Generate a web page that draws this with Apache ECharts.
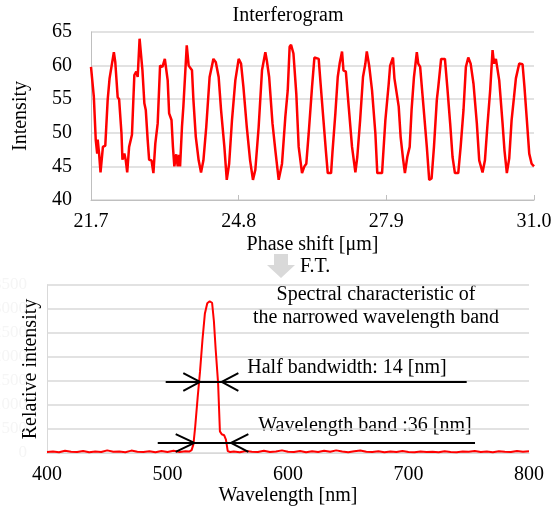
<!DOCTYPE html>
<html>
<head>
<meta charset="utf-8">
<script src="https://cdn.jsdelivr.net/npm/echarts@6/dist/echarts.min.js"></script>
<style>
  html, body { margin: 0; padding: 0; background: #fff; }
  #main { width: 552px; height: 508px; }
</style>
</head>
<body>
<div id="main"></div>
<script>
// interferogram (phase shift in um, intensity)
const phaseX = [
  21.70, 21.76, 21.80, 21.83, 21.84, 21.87, 21.90, 21.95, 22.00, 22.05, 22.09, 22.13, 22.18, 22.21, 22.26, 22.29,
  22.34, 22.36, 22.40, 22.43, 22.46, 22.50, 22.56, 22.61, 22.65, 22.68, 22.72, 22.75, 22.78, 22.82, 22.85, 22.89,
  22.92, 22.97, 23.01, 23.05, 23.10, 23.15, 23.20, 23.25, 23.27, 23.31, 23.34, 23.39, 23.42, 23.45, 23.49, 23.52,
  23.55, 23.57, 23.61, 23.64, 23.68, 23.71, 23.75, 23.78, 23.82, 23.85, 23.90, 23.96, 24.01, 24.06, 24.12, 24.19,
  24.27, 24.32, 24.38, 24.43, 24.50, 24.55, 24.60, 24.66, 24.73, 24.80, 24.85, 24.90, 24.97, 25.04, 25.10, 25.15,
  25.22, 25.29, 25.36, 25.39, 25.44, 25.51, 25.57, 25.64, 25.71, 25.78, 25.83, 25.87, 25.90, 25.95, 26.01, 26.06,
  26.13, 26.18, 26.22, 26.27, 26.34, 26.39, 26.48, 26.52, 26.58, 26.63, 26.67, 26.74, 26.77, 26.83, 26.88, 26.92,
  26.97, 27.00, 27.05, 27.11, 27.18, 27.25, 27.29, 27.35, 27.41, 27.46, 27.49, 27.54, 27.60, 27.67, 27.71, 27.81,
  27.88, 27.95, 27.98, 28.04, 28.07, 28.11, 28.16, 28.20, 28.25, 28.29, 28.34, 28.39, 28.43, 28.48, 28.54, 28.57,
  28.61, 28.68, 28.75, 28.80, 28.85, 28.90, 28.96, 28.99, 29.05, 29.13, 29.18, 29.24, 29.29, 29.34, 29.41, 29.46,
  29.52, 29.57, 29.62, 29.67, 29.73, 29.80, 29.85, 29.92, 29.97, 30.02, 30.08, 30.13, 30.16, 30.20, 30.23, 30.27,
  30.34, 30.38, 30.43, 30.48, 30.53, 30.58, 30.62, 30.65, 30.69, 30.76, 30.80, 30.85, 30.90, 30.95, 31.00
];
const intensity = [
  59.8, 55.3, 48.9, 46.9, 49.0, 46.9, 44.1, 47.9, 48.1, 54.9, 58.1, 58.2, 62.0, 60.5, 55.3, 55.0,
  49.9, 46.0, 46.9, 45.9, 44.1, 47.9, 49.7, 58.6, 59.1, 58.3, 64.0, 64.0, 59.3, 54.4, 53.4, 48.9,
  46.0, 45.9, 44.0, 48.4, 51.4, 60.0, 59.8, 61.0, 60.8, 57.8, 52.9, 51.9, 47.9, 45.0, 46.8, 45.0,
  46.7, 45.0, 50.9, 54.0, 54.1, 63.0, 60.0, 60.0, 59.3, 54.9, 49.4, 45.9, 44.1, 45.9, 50.9, 58.3,
  61.0, 60.5, 58.3, 53.4, 47.9, 43.0, 45.4, 51.9, 57.8, 61.0, 60.3, 56.8, 50.9, 45.9, 43.0, 44.5,
  50.9, 59.3, 62.0, 60.8, 58.3, 51.4, 47.4, 43.0, 45.4, 52.4, 56.3, 62.8, 63.1, 61.8, 55.8, 47.9,
  44.0, 45.0, 45.4, 49.9, 56.8, 61.2, 61.0, 57.3, 51.9, 47.4, 44.0, 44.0, 47.2, 52.9, 58.3, 60.3,
  62.1, 59.3, 59.1, 53.9, 47.9, 44.1, 46.4, 51.9, 58.3, 60.3, 62.1, 60.0, 56.3, 49.9, 44.0, 44.0,
  51.9, 57.3, 60.0, 61.2, 58.1, 58.1, 53.9, 49.4, 46.2, 44.0, 46.4, 47.9, 53.4, 58.3, 62.0, 60.3,
  59.8, 53.9, 47.9, 43.0, 43.2, 47.9, 54.9, 56.8, 61.0, 61.0, 56.8, 51.4, 46.4, 44.0, 44.0, 47.9,
  53.4, 59.8, 61.2, 60.3, 57.3, 51.4, 45.9, 44.1, 45.9, 50.9, 56.3, 62.3, 60.3, 61.0, 61.0, 57.8,
  51.4, 47.4, 44.0, 46.2, 51.9, 55.3, 58.1, 58.3, 60.3, 60.2, 56.8, 51.9, 46.9, 45.4, 45.0
];
const phaseTicks = [21.7, 24.8, 27.9, 31.0];

// spectrum after F.T. (wavelength in nm, relative intensity)
const wavelength = [
  400, 405, 410, 415, 420, 425, 430, 435, 440, 445, 450, 455, 460, 465, 470, 475, 480, 485, 490, 495, 500, 505, 510, 515,
  518, 520, 521.5, 523, 525, 527, 529, 531, 533, 535, 537, 538.5, 540, 542, 543.5, 545, 547, 548.5, 550, 552,
  555, 560, 565, 570, 575, 580, 585, 590, 595, 600, 605, 610, 615, 620, 625, 630, 635, 640, 645, 650,
  655, 660, 665, 670, 675, 680, 685, 690, 695, 700, 705, 710, 715, 720, 725, 730, 735, 740, 745, 750,
  755, 760, 765, 770, 775, 780, 785, 790, 795, 800
];
const relIntensity = [
  20, 30, 15, 45, 25, 20, 40, 15, 30, 20, 55, 25, 30, 15, 50, 25, 20, 35, 15, 40, 20, 45, 20, 35,
  30, 60, 180, 550, 1150, 1700, 2350, 2900, 3120, 3160, 3130, 2750, 2150, 1450, 450, 390, 370, 280, 40, 20,
  30, 15, 40, 25, 20, 45, 20, 30, 55, 25, 20, 40, 15, 35, 20, 45, 25, 55, 30, 15,
  35, 50, 25, 20, 35, 15, 30, 20, 40, 20, 15, 30, 20, 25, 15, 35, 20, 15, 30, 25,
  40, 20, 30, 15, 35, 25, 20, 40, 25, 35
];

// width markers, in data units of the spectrum
const halfY = 1480;
const halfLine = [498.5, 748.3];
const halfHeads = [513.1, 527.0, 545.0, 558.8]; // left arm, left tip, right tip, right arm
const bandY = 210;
const bandLine = [491.9, 755.2];
const bandHeads = [506.8, 522.3, 552.7, 567.1];
const headSpan = 185;

const serif = "'Liberation Serif', 'DejaVu Serif', serif";
const fs = 20;

function zip(xs, ys) {
  return xs.map((x, i) => [x, ys[i]]);
}

function markerSeries(y, line, heads) {
  const polys = [
    [[line[0], y], [line[1], y]],
    [[heads[0], y + headSpan], [heads[1], y], [heads[0], y - headSpan]],
    [[heads[3], y + headSpan], [heads[2], y], [heads[3], y - headSpan]]
  ];
  return polys.map(p => ({
    type: 'line',
    xAxisIndex: 1,
    yAxisIndex: 1,
    data: p,
    showSymbol: false,
    silent: true,
    z: 3,
    lineStyle: { color: '#000', width: 2 }
  }));
}

function note(text, x, y) {
  return {
    type: 'text', x: x, y: y,
    style: { text: text, font: fs + 'px ' + serif, fill: '#000', align: 'center', verticalAlign: 'middle' }
  };
}

const chart = echarts.init(document.getElementById('main'));

const option = {
  animation: false,
  textStyle: { fontFamily: serif },
  grid: [
    { left: 91, right: 18, top: 32, height: 168, outerBoundsMode: 'none' },
    { left: 47, right: 23, top: 285, height: 168, outerBoundsMode: 'none' }
  ],
  xAxis: [
    {
      gridIndex: 0,
      type: 'value',
      min: 21.7,
      max: 31.0,
      interval: 3.1,
      name: 'Phase shift [μm]',
      nameLocation: 'middle',
      nameGap: 35,
      nameMoveOverlap: false,
      nameTextStyle: { fontFamily: serif, fontSize: fs, color: '#000' },
      axisLine: { lineStyle: { color: '#bfbfbf' } },
      axisTick: { show: true, inside: true, length: 5, lineStyle: { color: '#bfbfbf' }, customValues: phaseTicks },
      axisLabel: {
        fontFamily: serif, fontSize: fs, color: '#000', margin: 12,
        customValues: phaseTicks,
        formatter: v => v.toFixed(1)
      },
      splitLine: { show: false }
    },
    {
      gridIndex: 1,
      type: 'value',
      min: 400,
      max: 800,
      interval: 100,
      name: 'Wavelength [nm]',
      nameLocation: 'middle',
      nameGap: 33,
      nameMoveOverlap: false,
      nameTextStyle: { fontFamily: serif, fontSize: fs, color: '#000' },
      axisLine: { lineStyle: { color: '#d9d9d9' } },
      axisTick: { show: false },
      axisLabel: { fontFamily: serif, fontSize: fs, color: '#000', margin: 12 },
      splitLine: { show: false }
    }
  ],
  yAxis: [
    {
      gridIndex: 0,
      type: 'value',
      min: 40,
      max: 65,
      interval: 5,
      name: 'Intensity',
      nameLocation: 'middle',
      nameGap: 60,
      nameMoveOverlap: false,
      nameTextStyle: { fontFamily: serif, fontSize: fs, color: '#000' },
      axisLine: { show: true, lineStyle: { color: '#bfbfbf' } },
      axisTick: { show: false },
      axisLabel: { fontFamily: serif, fontSize: fs, color: '#000', margin: 19 },
      splitLine: { lineStyle: { color: '#d9d9d9', width: 1.5 } }
    },
    {
      gridIndex: 1,
      type: 'value',
      min: 0,
      max: 3500,
      interval: 500,
      name: 'Relative intensity',
      nameLocation: 'middle',
      nameGap: 6,
      nameMoveOverlap: false,
      nameTextStyle: { fontFamily: serif, fontSize: fs, color: '#000' },
      axisLine: { show: true, lineStyle: { color: '#d9d9d9' } },
      axisTick: { show: false },
      axisLabel: { fontFamily: serif, fontSize: 17, color: '#f5f5f5', margin: 20, formatter: v => String(v) },
      splitLine: { lineStyle: { color: '#d9d9d9', width: 1.5 } }
    }
  ],
  graphic: [
    note('Interferogram', 288, 16),
    {
      type: 'polygon',
      shape: { points: [[274, 254], [288, 254], [288, 265], [295, 265], [281, 278], [267, 265], [274, 265]] },
      style: { fill: '#d9d9d9' }
    },
    {
      type: 'text', x: 300, y: 267,
      style: { text: 'F.T.', font: fs + 'px ' + serif, fill: '#000', verticalAlign: 'middle' }
    },
    note('Spectral characteristic of', 376, 295),
    note('the narrowed wavelength band', 376, 318),
    note('Half bandwidth: 14 [nm]', 347, 368),
    note('Wavelength band :36 [nm]', 365, 426)
  ],
  series: [
    {
      type: 'line',
      xAxisIndex: 0,
      yAxisIndex: 0,
      data: zip(phaseX, intensity),
      showSymbol: false,
      lineStyle: { color: '#ff0000', width: 2.5 }
    },
    {
      type: 'line',
      xAxisIndex: 1,
      yAxisIndex: 1,
      data: zip(wavelength, relIntensity),
      showSymbol: false,
      z: 2,
      lineStyle: { color: '#ff0000', width: 2 }
    },
    ...markerSeries(halfY, halfLine, halfHeads),
    ...markerSeries(bandY, bandLine, bandHeads)
  ]
};

chart.setOption(option);
</script>
</body>
</html>
